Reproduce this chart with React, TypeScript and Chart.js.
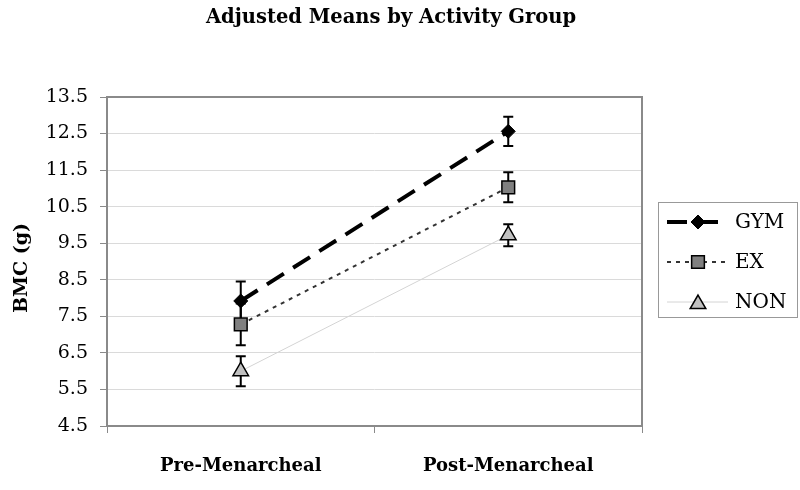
import React, { useEffect, useRef } from "react";
import { Chart, registerables } from "chart.js";
import { drawPoint } from "chart.js/helpers";

Chart.register(...registerables);

// ---- data ----
const categories = ["Pre-Menarcheal", "Post-Menarcheal"];
const seriesNames = ["GYM", "EX", "NON"];
const gymMeans = [7.92, 12.56];
const gymErrors = [0.53, 0.4];
const exMeans = [7.28, 11.03];
const exErrors = [0.57, 0.41];
const nonMeans = [6.0, 9.72];
const nonErrors = [0.41, 0.3];
const yMin = 4.5;
const yMax = 13.5;
const yStep = 1;
const chartTitle = "Adjusted Means by Activity Group";
const yTitle = "BMC (g)";

const FONT = '"DejaVu Serif", serif';
const errorsBySeries = [gymErrors, exErrors, nonErrors];

const errorBarPlugin = {
  id: "errorBars",
  beforeDatasetsDraw(chart: any) {
    const ctx = chart.ctx;
    const ys = chart.scales.y;
    chart.data.datasets.forEach((ds: any, i: number) => {
      const meta = chart.getDatasetMeta(i);
      const errs = errorsBySeries[i];
      ds.data.forEach((v: number, j: number) => {
        const x = meta.data[j].x;
        const top = ys.getPixelForValue(v + errs[j]);
        const bot = ys.getPixelForValue(v - errs[j]);
        ctx.save();
        ctx.strokeStyle = "#000";
        ctx.lineWidth = 2;
        ctx.beginPath();
        ctx.moveTo(x, top);
        ctx.lineTo(x, bot);
        ctx.moveTo(x - 5, top);
        ctx.lineTo(x + 5, top);
        ctx.moveTo(x - 5, bot);
        ctx.lineTo(x + 5, bot);
        ctx.stroke();
        ctx.restore();
      });
    });
    // plot frame
    const a = chart.chartArea;
    ctx.save();
    ctx.strokeStyle = "#8a8a8a";
    ctx.lineWidth = 2;
    ctx.strokeRect(a.left, a.top, a.right - a.left, a.bottom - a.top);
    ctx.restore();
  },
};

const decorPlugin = {
  id: "decor",
  afterDraw(chart: any) {
    const ctx = chart.ctx;
    ctx.save();
    // title
    ctx.fillStyle = "#000";
    ctx.font = `bold 19.5px ${FONT}`;
    ctx.textAlign = "center";
    ctx.textBaseline = "middle";
    ctx.fillText(chartTitle, 391, 18);
    // y title
    ctx.font = `bold 19px ${FONT}`;
    ctx.save();
    ctx.translate(22, 268);
    ctx.rotate(-Math.PI / 2);
    ctx.fillText(yTitle, 0, 0);
    ctx.restore();

    // legend box
    const lx = 658, ly = 202, lw = 139, lh = 115;
    ctx.fillStyle = "#fff";
    ctx.fillRect(lx, ly, lw, lh);
    ctx.strokeStyle = "#999";
    ctx.lineWidth = 1;
    ctx.strokeRect(lx + 0.5, ly + 0.5, lw, lh);
    chart.data.datasets.forEach((ds: any, i: number) => {
      const cy = 222 + i * 40;
      ctx.save();
      ctx.strokeStyle = ds.borderColor;
      ctx.lineWidth = ds.borderWidth;
      ctx.setLineDash(ds.borderDash || []);
      ctx.beginPath();
      ctx.moveTo(667, cy);
      ctx.lineTo(728, cy);
      ctx.stroke();
      ctx.restore();
      ctx.save();
      ctx.fillStyle = ds.pointBackgroundColor;
      ctx.strokeStyle = ds.pointBorderColor;
      ctx.lineWidth = ds.pointBorderWidth;
      drawPoint(ctx, { pointStyle: ds.pointStyle, radius: ds.pointRadius, rotation: 0, borderWidth: ds.pointBorderWidth }, 698, cy + (ds.pointStyle === "triangle" ? 2 : 0));
      ctx.restore();
      ctx.fillStyle = "#000";
      ctx.font = `20px ${FONT}`;
      ctx.textAlign = "left";
      ctx.textBaseline = "middle";
      ctx.fillText(ds.label, 735, cy + 1);
    });
    ctx.restore();
  },
};

export default function App() {
  const ref = useRef<HTMLCanvasElement | null>(null);
  useEffect(() => {
    document.body.style.margin = "0";
    const chart = new Chart(ref.current as HTMLCanvasElement, {
      type: "line",
      data: {
        labels: categories,
        datasets: [
          {
            label: seriesNames[0],
            data: gymMeans,
            borderColor: "#000",
            borderWidth: 4,
            borderDash: [20, 11],
            pointStyle: "rectRot",
            pointRadius: 7,
            pointBackgroundColor: "#000",
            pointBorderColor: "#000",
            pointBorderWidth: 1,
          },
          {
            label: seriesNames[1],
            data: exMeans,
            borderColor: "#333",
            borderWidth: 2,
            borderDash: [4, 5],
            pointStyle: "rect",
            pointRadius: 9,
            pointBackgroundColor: "#808080",
            pointBorderColor: "#000",
            pointBorderWidth: 1.5,
          },
          {
            label: seriesNames[2],
            data: nonMeans,
            borderColor: "#d4d4d4",
            borderWidth: 1,
            pointStyle: "triangle",
            pointRadius: 9,
            pointBackgroundColor: "#c0c0c0",
            pointBorderColor: "#000",
            pointBorderWidth: 1.5,
          },
        ] as any,
      },
      options: {
        animation: false,
        responsive: false,
        layout: { padding: { top: 97, right: 158, left: 0, bottom: 0 } },
        plugins: { legend: { display: false }, title: { display: false }, tooltip: { enabled: false } },
        scales: {
          x: {
            type: "category",
            offset: true,
            grid: { offset: true, drawOnChartArea: false, drawTicks: true, tickLength: 7, color: "#8a8a8a", tickColor: "#8a8a8a" },
            border: { display: false },
            ticks: { color: "#000", font: { family: FONT, size: 18, weight: "bold" }, padding: 23 },
            afterFit: (s: any) => {
              s.height = 64;
            },
          },
          y: {
            min: yMin,
            max: yMax,
            grid: { color: "#dadada", tickColor: "#8a8a8a", tickLength: 7 },
            border: { display: false },
            ticks: {
              stepSize: yStep,
              color: "#000",
              font: { family: FONT, size: 19 },
              padding: 12,
              callback: (v: any) => Number(v).toFixed(1),
            },
            afterFit: (s: any) => {
              s.width = 107;
            },
          },
        },
      } as any,
      plugins: [errorBarPlugin, decorPlugin],
    });
    return () => chart.destroy();
  }, []);
  return <canvas ref={ref} width={800} height={490} style={{ display: "block" }} />;
}
